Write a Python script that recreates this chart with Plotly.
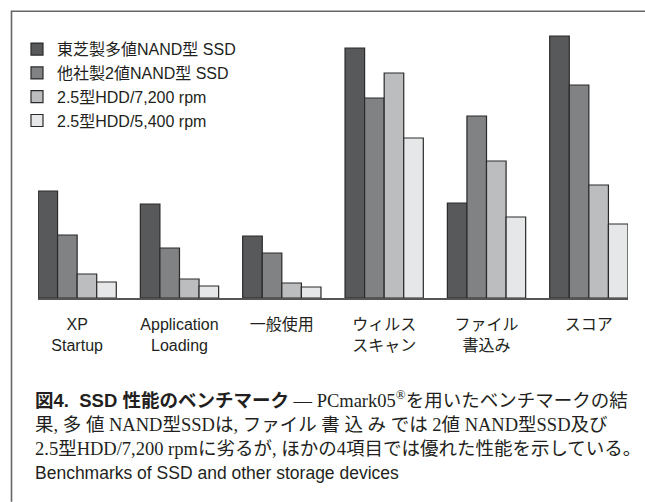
import plotly.graph_objects as go

categories = ["XP<br>Startup", "Application<br>Loading", "一般使用", "ウィルス<br>スキャン", "ファイル<br>書込み", "スコア"]
series_names = ["東芝製多値NAND型 SSD", "他社製2値NAND型 SSD", "2.5型HDD/7,200 rpm", "2.5型HDD/5,400 rpm"]
toshiba_mlc = [107, 94, 62, 250, 95, 262]
other_slc = [63, 50, 45, 200, 182, 213]
hdd_7200 = [24, 19, 15, 225, 137, 113]
hdd_5400 = [16, 12, 11, 160, 81, 74]
colors = ["#58595b", "#818284", "#bcbdbf", "#e6e7e8"]

W, H = 645, 502
PL, PR = 38, 628          # plot area left/right in px
PT, PB = 28.3, 298.3      # plot area top/bottom in px
YMAX = 270

def px(x):
    return (x - PL) / (PR - PL)

def py(y):
    return (PB - y) / (PB - PT)

SANS = "Liberation Sans, Noto Sans CJK JP, sans-serif"
SERIF = "Liberation Serif, Noto Sans CJK JP, serif"
TXT = "#231f20"

fig = go.Figure()
for name, vals, col in zip(series_names, [toshiba_mlc, other_slc, hdd_7200, hdd_5400], colors):
    fig.add_trace(go.Bar(x=categories, y=vals, name=name,
                         marker=dict(color=col, line=dict(color="#2a2a2a", width=1.2))))

g = 0.235
fig.update_layout(
    width=W, height=H,
    margin=dict(l=PL, r=W - PR, t=PT, b=H - PB, pad=0),
    paper_bgcolor="white", plot_bgcolor="white",
    barmode="group", bargap=g, bargroupgap=0,
    showlegend=True,
    legend=dict(x=px(17), y=py(32.5), xanchor="left", yanchor="top",
                bgcolor="rgba(0,0,0,0)", font=dict(family=SANS, size=16, color=TXT),
                tracegroupgap=0),
    xaxis=dict(range=[-0.5 + g / 2, 5.5 - g / 2], showline=True, linecolor="#555555",
               linewidth=1.5, showgrid=False, zeroline=False, ticks="",
               tickfont=dict(family=SANS, size=16, color=TXT), ticklabelstandoff=11,
               fixedrange=True),
    yaxis=dict(range=[0, YMAX], visible=False, showgrid=False, zeroline=False, fixedrange=True),
)

# frame lines
fig.add_shape(type="line", xref="paper", yref="paper", x0=px(11), x1=px(W), y0=py(11.5), y1=py(11.5),
              line=dict(color="#666666", width=1.6))
fig.add_shape(type="line", xref="paper", yref="paper", x0=px(11.5), x1=px(11.5), y0=py(11), y1=py(H),
              line=dict(color="#666666", width=1.6))

cap1 = ("<b>図4.  SSD 性能のベンチマーク</b>"
        "<span style='font-family:Liberation Serif, Noto Sans CJK JP'> — PCmark05<sup>®</sup>を用いたベンチマークの結</span>")
cap2 = ("<span style='font-family:Liberation Serif, Noto Sans CJK JP'>"
        "果, 多 値 NAND型SSDは, ファイル 書 込 み では 2値 NAND型SSD及び</span>")
cap3 = ("<span style='font-family:Liberation Serif, Noto Sans CJK JP'>"
        "2.5型HDD/7,200 rpmに劣るが, ほかの4項目では優れた性能を示している。</span>")
cap4 = "Benchmarks of SSD and other storage devices"

fig.add_annotation(text="<br>".join([cap1, cap2, cap3]), xref="paper", yref="paper",
                   x=px(33), y=py(423), xanchor="left", yanchor="middle", align="left",
                   showarrow=False, font=dict(family=SANS, size=18.5, color=TXT))
fig.add_annotation(text=cap4, xref="paper", yref="paper", x=px(33), y=py(473), xanchor="left",
                   yanchor="middle", showarrow=False, font=dict(family=SANS, size=17.5, color=TXT))

fig.write_html("out.html", config={"displayModeBar": False})
